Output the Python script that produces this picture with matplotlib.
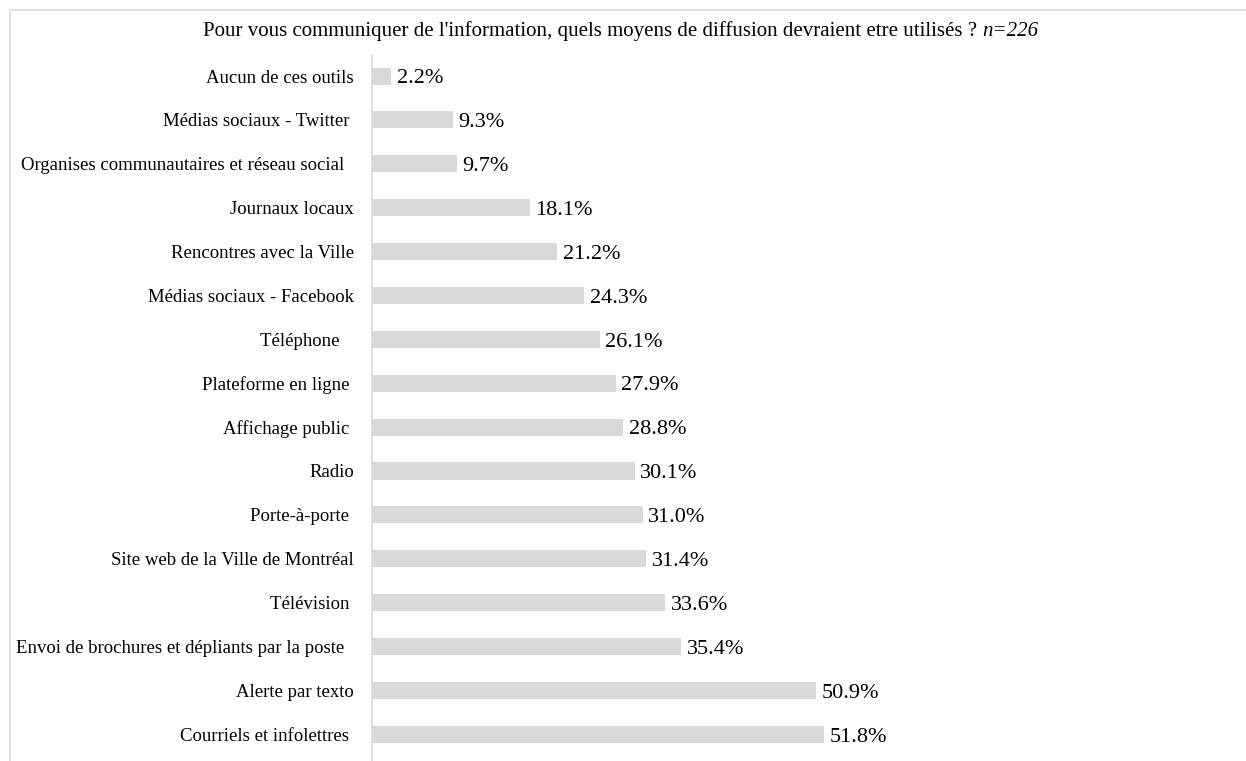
import matplotlib
matplotlib.use("Agg")
import matplotlib.pyplot as plt
from matplotlib.patches import Rectangle

# Data, top to bottom as shown (trailing spaces are in the source labels)
categories = [
    "Aucun de ces outils",
    "Médias sociaux - Twitter ",
    "Organises communautaires et réseau social  ",
    "Journaux locaux",
    "Rencontres avec la Ville",
    "Médias sociaux - Facebook",
    "Téléphone   ",
    "Plateforme en ligne ",
    "Affichage public ",
    "Radio",
    "Porte-à-porte ",
    "Site web de la Ville de Montréal",
    "Télévision ",
    "Envoi de brochures et dépliants par la poste  ",
    "Alerte par texto",
    "Courriels et infolettres ",
]
values = [2.2, 9.3, 9.7, 18.1, 21.2, 24.3, 26.1, 27.9, 28.8, 30.1, 31.0, 31.4, 33.6, 35.4, 50.9, 51.8]

title_main = "Pour vous communiquer de l'information, quels moyens de diffusion devraient etre utilisés ? "
title_n = "n=226"

plt.rcParams["font.family"] = ["Liberation Serif", "DejaVu Serif"]

W, H = 1246, 761
fig = plt.figure(figsize=(W / 100, H / 100), dpi=100)

# light outer frame (cut off on right/bottom like the source)
fig.patches.append(Rectangle((10 / W, -0.1), 2.0, 1 - 10 / H + 0.1,
                             transform=fig.transFigure, fill=False,
                             edgecolor="#d9d9d9", linewidth=1.2))

ax = fig.add_axes([372 / W, 0, (1236 - 372) / W, (761 - 55) / H])
pos = list(range(len(categories)))
bars = ax.barh(pos, values, height=0.39, color="#d9d9d9", edgecolor="none")
for b, v in zip(bars, values):
    ax.annotate(f"{v:.1f}%", xy=(b.get_width(), b.get_y() + b.get_height() / 2),
                xytext=(4, -2), textcoords="offset points",
                ha="left", va="center", fontsize=16, color="black")

ax.set_xlim(0, (1236 - 372) / 8.73)
ax.set_ylim(15.61, -0.48)
ax.set_yticks(pos)
ax.set_yticklabels(categories, fontsize=13.5)
ax.tick_params(axis="y", length=0, pad=13)
ax.set_xticks([])
for s in ["top", "right", "bottom"]:
    ax.spines[s].set_visible(False)
ax.spines["left"].set_color("#d9d9d9")
ax.spines["left"].set_linewidth(1.2)

t = fig.text(203 / W, 1 - 31 / H, title_main, fontsize=15, ha="left", va="center")
ax.annotate(title_n, xy=(1, 0.5), xycoords=t, ha="left", va="center",
            fontsize=15, style="italic", annotation_clip=False)

fig.savefig("out.png", dpi=100)
